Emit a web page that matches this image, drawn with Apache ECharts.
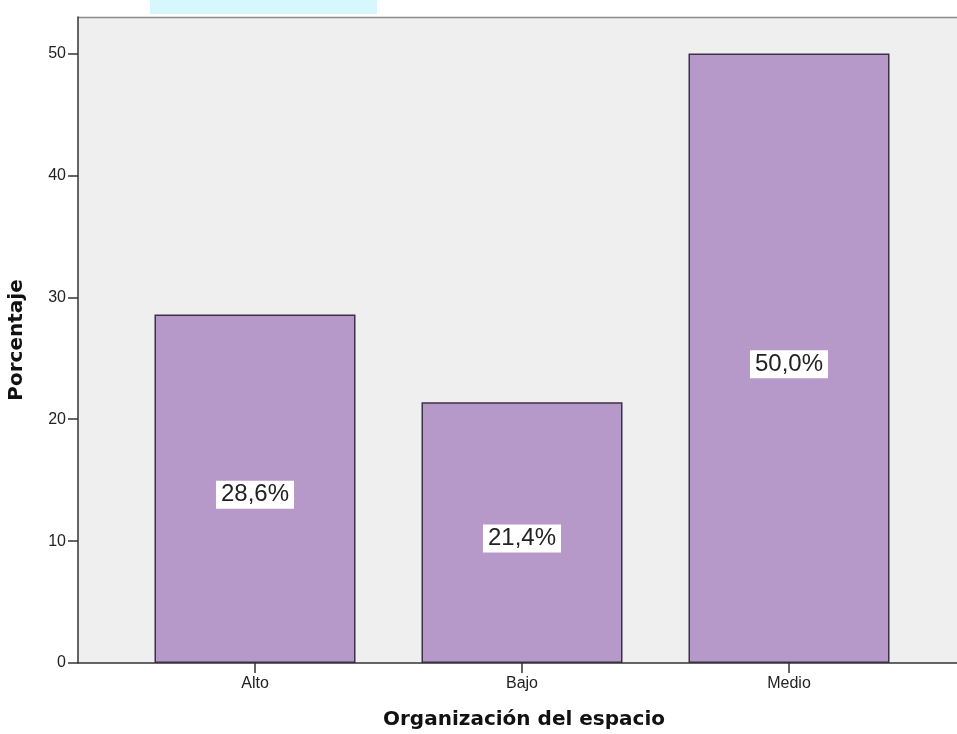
<!DOCTYPE html>
<html>
<head>
<meta charset="utf-8">
<script src="https://cdn.jsdelivr.net/npm/echarts@6/dist/echarts.min.js"></script>
<style>
html,body{margin:0;padding:0;background:#fff;}
#c{width:957px;height:734px;}
</style>
</head>
<body>
<div id="c"></div>
<script>
const categories = ['Alto', 'Bajo', 'Medio'];
const percentages = [28.6, 21.4, 50.0];
const yTicks = [0, 10, 20, 30, 40, 50];
const xTitle = 'Organización del espacio';
const yTitle = 'Porcentaje';

const chart = echarts.init(document.getElementById('c'), null, {renderer: 'canvas'});
const plotLeft = 78, plotTop = 17, plotBottom = 663;
const fontFam = 'Arial, "Liberation Sans", sans-serif';
const titleFam = '"DejaVu Sans", Verdana, sans-serif';

chart.setOption({
  animation: false,
  backgroundColor: '#ffffff',
  graphic: [
    {type: 'rect', z: -10, shape: {x: 150, y: 0, width: 227, height: 14}, style: {fill: '#d6f8fc'}},
    {type: 'rect', z: -10, shape: {x: plotLeft, y: plotTop, width: 957 - plotLeft + 10, height: plotBottom - plotTop}, style: {fill: '#efefef', stroke: null}},
    {type: 'line', z: -5, shape: {x1: plotLeft, y1: plotTop + 0.5, x2: 960, y2: plotTop + 0.5}, style: {stroke: '#8c8c8c', lineWidth: 1.5}},
    {type: 'line', z: 10, shape: {x1: plotLeft, y1: plotBottom, x2: 960, y2: plotBottom}, style: {stroke: '#333333', lineWidth: 1.5}}
  ],
  grid: {left: 121.5, right: 34.5, top: plotTop, bottom: 734 - plotBottom, containLabel: false, outerBoundsMode: 'none'},
  xAxis: {
    type: 'category',
    data: categories,
    axisLine: {show: false},
    axisTick: {show: true, alignWithLabel: true, length: 10, lineStyle: {color: '#333', width: 1.5}},
    axisLabel: {fontSize: 16, color: '#222', margin: 13, fontFamily: fontFam},
    name: xTitle,
    nameLocation: 'middle',
    nameGap: 47,
    nameTextStyle: {fontSize: 20, fontWeight: 'bold', color: '#111', fontFamily: titleFam, padding: [0, 0, 0, 4]}
  },
  yAxis: {
    type: 'value',
    min: 0,
    max: 53,
    interval: 10,
    offset: 43.5,
    axisLine: {show: true, lineStyle: {color: '#333', width: 1.5}},
    axisTick: {show: true, length: 10, customValues: yTicks, lineStyle: {color: '#333', width: 1.5}},
    axisLabel: {fontSize: 16, color: '#222', margin: 12, customValues: yTicks, fontFamily: fontFam},
    splitLine: {show: false},
    name: yTitle,
    nameLocation: 'middle',
    nameGap: 51,
    nameTextStyle: {fontSize: 20, fontWeight: 'bold', color: '#111', fontFamily: titleFam}
  },
  series: [{
    type: 'bar',
    data: percentages,
    barWidth: 201,
    itemStyle: {color: '#b799c9', borderColor: '#3c3048', borderWidth: 1.5},
    label: {
      show: true,
      position: 'inside',
      offset: [0, 6],
      formatter: p => p.value.toFixed(1).replace('.', ',') + '%',
      fontSize: 24,
      color: '#222',
      fontFamily: fontFam,
      backgroundColor: '#ffffff',
      padding: [3, 5, 1, 5]
    }
  }]
});
</script>
</body>
</html>
